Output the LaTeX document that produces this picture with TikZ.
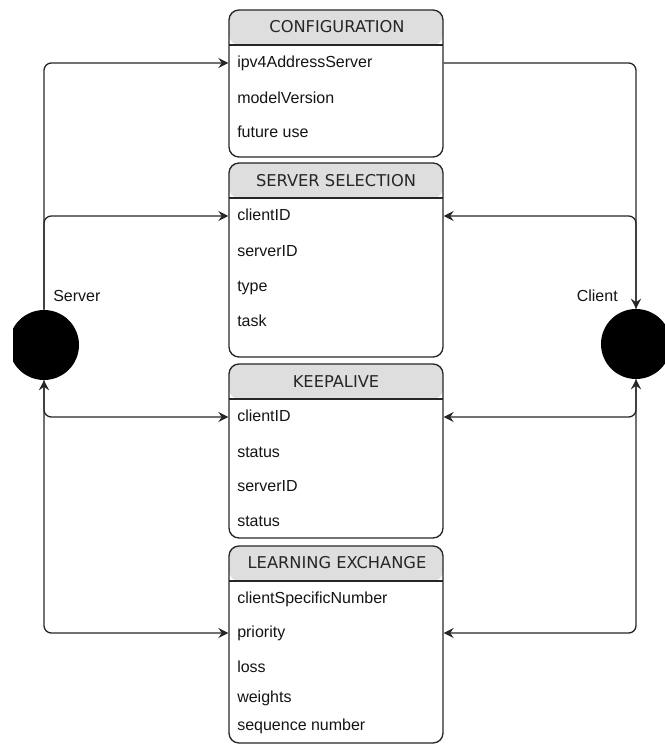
\documentclass[tikz,border=0pt]{standalone}
\usepackage{fontspec}
\setmainfont{Liberation Sans}
\newfontfamily\titlefont{DejaVu Sans}
\usetikzlibrary{arrows.meta}
\begin{document}
\begin{tikzpicture}[x=0.75pt,y=-0.75pt,
  >={Stealth[length=7.5pt,width=7.5pt,inset=2.6pt]},
  ink/.style={draw=black!85, line width=1pt},
  entity/.style={ink, rounded corners=7.5pt, minimum width=160.5pt, inner sep=0pt,
    path picture={
      \fill[black!13] (path picture bounding box.north west) rectangle
        ([yshift=-26.25pt]path picture bounding box.north east);
      \draw[ink] ([yshift=-26.25pt]path picture bounding box.north west) --
        ([yshift=-26.25pt]path picture bounding box.north east);}},
  title/.style={font=\titlefont\fontsize{12.2pt}{14pt}\selectfont, text=black!85, inner sep=0pt},
  field/.style={anchor=west, inner sep=0pt, text=black!92,
    font=\fontsize{12pt}{14pt}\selectfont, text height=8.6pt, text depth=2.5pt},
  actor/.style={circle, fill=black, minimum size=52.5pt, inner sep=0pt},
  link/.style={ink, rounded corners=5.5pt, ->},
  twoway/.style={ink, rounded corners=5.5pt, <->},
]
\useasboundingbox (0,0) rectangle (664,745);

% message boxes
\node[entity, minimum height=110.25pt] (cfg) at (336,83.5) {};
\node[entity, minimum height=145.5pt]  (ss)  at (336,260) {};
\node[entity, minimum height=130.5pt]  (ka)  at (336,451) {};
\node[entity, minimum height=147.75pt] (le)  at (336,644.5) {};

% titles
\node[title] (cfgt) at (337,27)  {CONFIGURATION};
\node[title] (sst)  at (336,181) {SERVER SELECTION};
\node[title] (kat)  at (336,382) {KEEPALIVE};
\node[title] (let)  at (337,563) {LEARNING EXCHANGE};

% fields
\node[field] (cfgip)  at (237,63)  {ipv4AddressServer};
\node[field] (cfgmv)  at (237,99)  {modelVersion};
\node[field] (cfgfu)  at (237,133) {future use};

\node[field] (sscid)  at (237,216) {clientID};
\node[field] (sssid)  at (237,252) {serverID};
\node[field] (sstype) at (237,287) {type};
\node[field] (sstask) at (237,322) {task};

\node[field] (kacid)  at (237,417) {clientID};
\node[field] (kast)   at (237,453) {status};
\node[field] (kasid)  at (237,487) {serverID};
\node[field] (kast2)  at (237,522) {status};

\node[field] (lecsn)  at (237,599) {clientSpecificNumber};
\node[field] (lepri)  at (237,633) {priority};
\node[field] (leloss) at (237,668) {loss};
\node[field] (lew)    at (237,698) {weights};
\node[field] (leseq)  at (237,726) {sequence number};

% end points
\begin{scope}
  \clip (13,0) rectangle (664,745);
  \node[actor] (srv) at (44,345) {};
\end{scope}
\node[actor] (cli) at (636,344) {};

\node[field] (srvl) at (53,297) {Server};
\node[field, anchor=east] (clil) at (618,297) {Client};

% connectors
\draw[link] (srv.north) |- (cfgip.west -| cfg.west);
\draw[link] (srv.north) |- (sscid.west -| ss.west);
\draw[link] (cfgip.west -| cfg.east) -| (cli.north);
\draw[link] (cli.north) |- (sscid.west -| ss.east);
\draw[link] (srv.south) |- (kacid.west -| ka.west);
\draw[twoway] (srv.south) |- (lepri.west -| le.west);
\draw[link] (cli.south) |- (kacid.west -| ka.east);
\draw[twoway] (cli.south) |- (lepri.west -| le.east);
\end{tikzpicture}
\end{document}
